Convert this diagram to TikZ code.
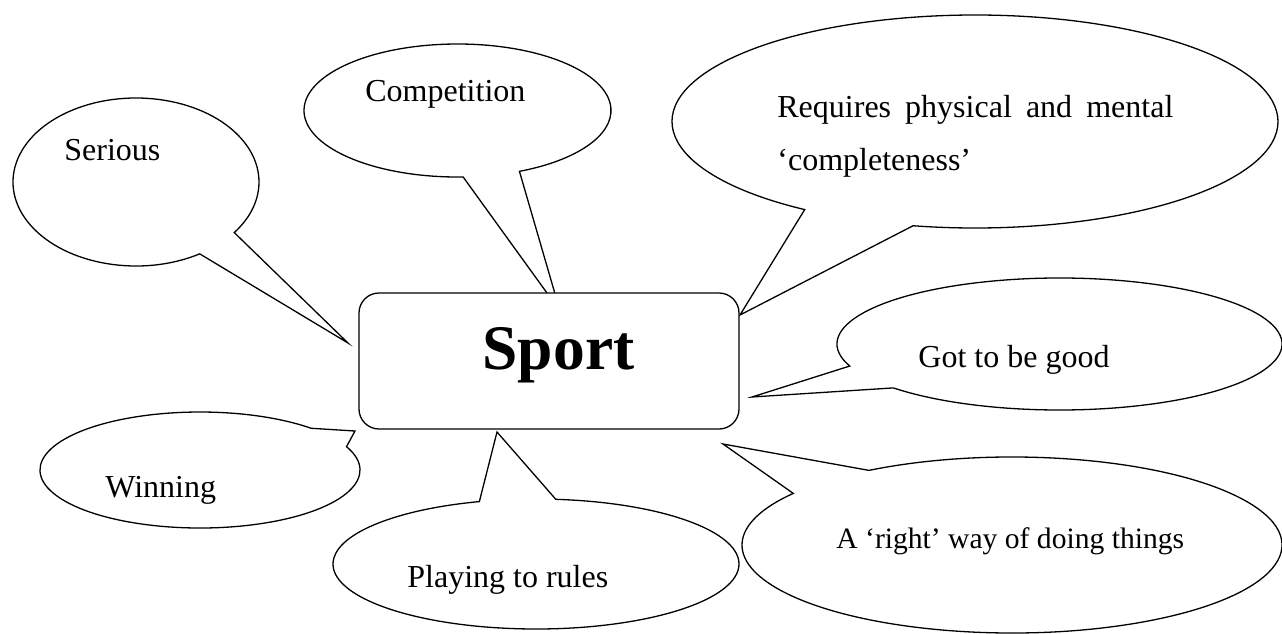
\documentclass[tikz,border=0pt]{standalone}
\usepackage{fontspec}
\setmainfont{Liberation Serif}
\usetikzlibrary{calc}
\begin{document}
\begin{tikzpicture}[x=0.5pt,y=-0.5pt,
  bubble/.style={draw=black,fill=white,line width=0.65pt,line join=miter},
  bubbletext/.style={anchor=base west,inner sep=0pt,font=\fontsize{16}{19}\selectfont},
  hub/.style={draw=black,fill=white,line width=0.65pt,rounded corners=10pt,
    minimum width=190pt,minimum height=68pt,inner sep=0pt}]
\useasboundingbox (0,0) rectangle (1282,633);

% centres of the speech bubbles and the tips of their tails
\coordinate (cSerious) at (136,182);   \coordinate (tSerious) at (348,343);
\coordinate (cCompet)  at (457.5,110.5); \coordinate (tCompet) at (560,311);
\coordinate (cReq)     at (975,121.5); \coordinate (tReq)     at (740,315);
\coordinate (cGood)    at (1059.5,344); \coordinate (tGood)   at (752,397);
\coordinate (cRight)   at (1012,545);  \coordinate (tRight)   at (723,444);
\coordinate (cWin)     at (200,470);   \coordinate (tWin)     at (355,431);
\coordinate (cRules)   at (536,564);   \coordinate (tRules)   at (497,432);

% speech bubbles: tail tip, then the long arc round the ellipse
\draw[bubble] (tSerious) -- ($(cSerious)+(58.8:123 and 84)$)
  arc[start angle=58.8,end angle=397,x radius=123,y radius=84] -- cycle;
\draw[bubble] (tCompet) -- ($(cCompet)+(87.9:153.5 and 66.5)$)
  arc[start angle=87.9,end angle=426.2,x radius=153.5,y radius=66.5] -- cycle;
\draw[bubble] (tReq) -- ($(cReq)+(124.2:303 and 106.5)$)
  arc[start angle=124.2,end angle=461.8,x radius=303,y radius=106.5] -- cycle;
\draw[bubble] (tGood) -- ($(cGood)+(160.5:222.5 and 66)$)
  arc[start angle=160.5,end angle=498.3,x radius=222.5,y radius=66] -- cycle;
\draw[bubble] (tRight) -- ($(cRight)+(238:270 and 88)$)
  arc[start angle=238,end angle=575.9,x radius=270,y radius=88] -- cycle;
\draw[bubble] (tWin) -- ($(cWin)+(336.3:160 and 58)$)
  arc[start angle=336.3,end angle=674,x radius=160,y radius=58] -- cycle;
\draw[bubble] (tRules) -- ($(cRules)+(275.6:203 and 65)$)
  arc[start angle=275.6,end angle=613.8,x radius=203,y radius=65] -- cycle;

% central box
\node[hub] (sport) at (549,361) {};
\node[anchor=base,inner sep=0pt,font=\fontsize{31.75}{38}\selectfont\bfseries]
  (sportlabel) at (558.5,369) {Sport};

% bubble texts
\node[bubbletext] (serious) at (64,160) {Serious};
\node[bubbletext] (competition) at (365,101) {Competition};
\node[bubbletext] (requiresA) at (777,117) {\makebox[198pt][s]{Requires physical and mental}};
\node[bubbletext] (requiresB) at (777,170) {‘completeness’};
\node[bubbletext] (good) at (918,367) {Got to be good};
\node[bubbletext,font=\fontsize{14.8}{18}\selectfont] (rightway) at (836,548) {A ‘right’ way of doing things};
\node[bubbletext] (winning) at (105,497) {Winning};
\node[bubbletext] (rules) at (407,587) {Playing to rules};
\end{tikzpicture}
\end{document}
